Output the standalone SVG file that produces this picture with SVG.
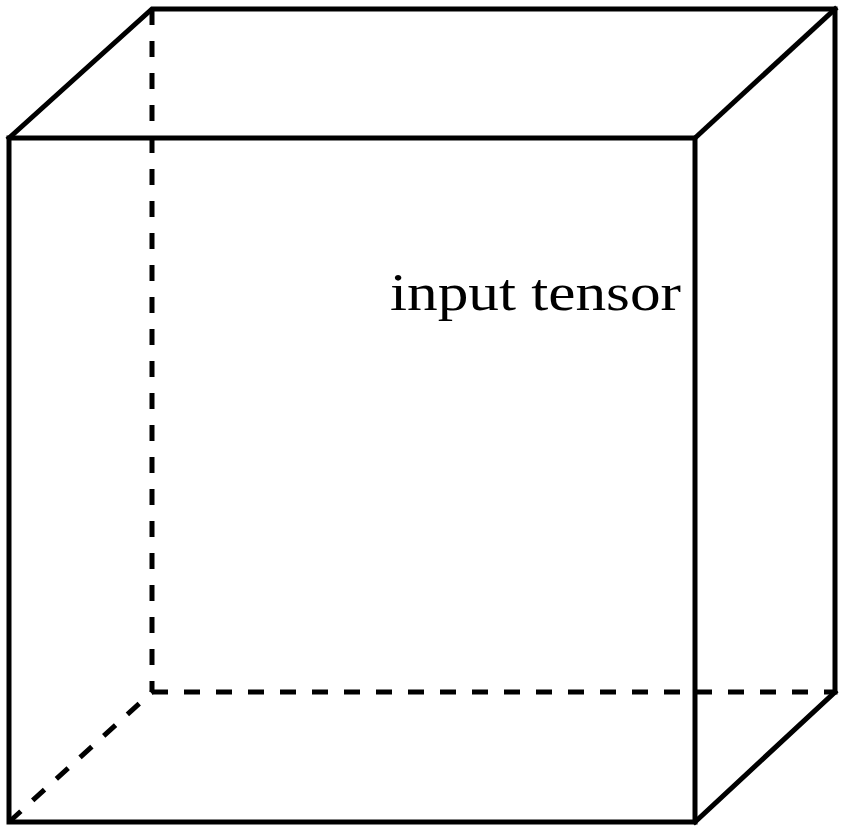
<svg xmlns="http://www.w3.org/2000/svg" width="841" height="826" viewBox="0 0 841 826">
<style>
.solid{fill:none;stroke:#000;stroke-width:5;stroke-linejoin:miter;stroke-linecap:square}
.dash{fill:none;stroke:#000;stroke-width:5;stroke-dasharray:16 16;stroke-linecap:butt}
.label{font-family:"Liberation Serif","Times New Roman",serif;font-size:53px;fill:#000}
</style>
<rect width="841" height="826" fill="#fff"/>
<g id="connectors">
<path class="dash" d="M152,9 L152,692"/>
<path class="dash" d="M152,692 L835,692"/>
<path class="dash" d="M9,822 L152,692"/>
</g>
<g id="cube">
<path class="solid" d="M9,138 L152,9 L835,9 L835,692"/>
<path class="solid" d="M695,138 L835,9"/>
<path class="solid" d="M695,822 L835,692"/>
<rect class="solid" x="9" y="138" width="686" height="684"/>
</g>
<g id="label">
<text class="label" x="390" y="310" textLength="291" lengthAdjust="spacingAndGlyphs">input tensor</text>
</g>
</svg>
